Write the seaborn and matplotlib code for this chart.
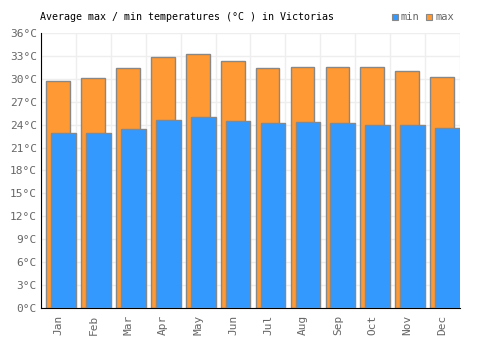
import numpy as np
import pandas as pd
import seaborn as sns
import matplotlib.pyplot as plt
from matplotlib.patches import Rectangle
from matplotlib.ticker import FuncFormatter, MultipleLocator

# === Dane ===
months = ["Jan", "Feb", "Mar", "Apr", "May", "Jun", "Jul", "Aug", "Sep", "Oct", "Nov", "Dec"]
temp_max = [29.7, 30.1, 31.4, 32.8, 33.2, 32.3, 31.4, 31.5, 31.5, 31.5, 31.0, 30.2]
temp_min = [22.9, 22.9, 23.4, 24.6, 25.0, 24.5, 24.2, 24.3, 24.2, 24.0, 24.0, 23.5]

df = pd.DataFrame({"month": months, "max": temp_max, "min": temp_min})

sns.set_style("white")
plt.rcParams["font.family"] = ["DejaVu Sans Mono"]

fig = plt.figure(figsize=(5, 3.5), dpi=100)
ax = fig.add_axes([0.082, 0.12, 0.838, 0.786])

edge = "#888888"
c_max = "#ff9933"
c_min = "#3399ff"

# max (w tle), przesunięte lekko w lewo
sns.barplot(data=df, x="month", y="max", color=c_max, width=0.68, saturation=1.0,
            edgecolor=edge, linewidth=1, ax=ax, zorder=2)
n = len(months)
for p in ax.patches[:n]:
    p.set_x(p.get_x() - 0.01)

# min (z przodu), przesunięte w prawo
sns.barplot(data=df, x="month", y="min", color=c_min, width=0.71, saturation=1.0,
            edgecolor=edge, linewidth=1, ax=ax, zorder=3)
for p in ax.patches[n:]:
    p.set_x(p.get_x() + 0.145)

ax.set_xlim(-0.5, n - 0.5)
ax.set_ylim(0, 36)
ax.yaxis.set_major_locator(MultipleLocator(3))
ax.yaxis.set_major_formatter(FuncFormatter(lambda y, _: f"{y:.0f}°C"))

# siatka: poziome linie na tickach, pionowe na granicach kategorii
ax.set_xticks(np.arange(-0.5, n, 1.0), minor=True)
ax.grid(True, axis="y", which="major", color="#eeeeee", linewidth=1, zorder=0)
ax.grid(True, axis="x", which="minor", color="#eeeeee", linewidth=1, zorder=0)
ax.set_axisbelow(True)

ax.tick_params(axis="x", which="both", length=0, labelrotation=90, labelsize=8,
               labelcolor="#666666", pad=5)
ax.tick_params(axis="y", length=0, labelsize=8, labelcolor="#666666", pad=3)
ax.set_xlabel("")
ax.set_ylabel("")

for s in ["top", "right"]:
    ax.spines[s].set_visible(False)
ax.spines["left"].set_color("black")
ax.spines["bottom"].set_color("black")

fig.text(0.08, 0.952, "Average max / min temperatures (°C ) in Victorias",
         fontsize=7.2, color="black", va="center", ha="left")

# legenda
fig.patches.append(Rectangle((0.783, 0.943), 0.012, 0.017, transform=fig.transFigure,
                             facecolor=c_min, edgecolor=edge, linewidth=0.8))
fig.text(0.801, 0.952, "min", fontsize=7.5, color="#666666", va="center")
fig.patches.append(Rectangle((0.852, 0.943), 0.012, 0.017, transform=fig.transFigure,
                             facecolor=c_max, edgecolor=edge, linewidth=0.8))
fig.text(0.870, 0.952, "max", fontsize=7.5, color="#666666", va="center")

fig.savefig("out.png", dpi=100)
